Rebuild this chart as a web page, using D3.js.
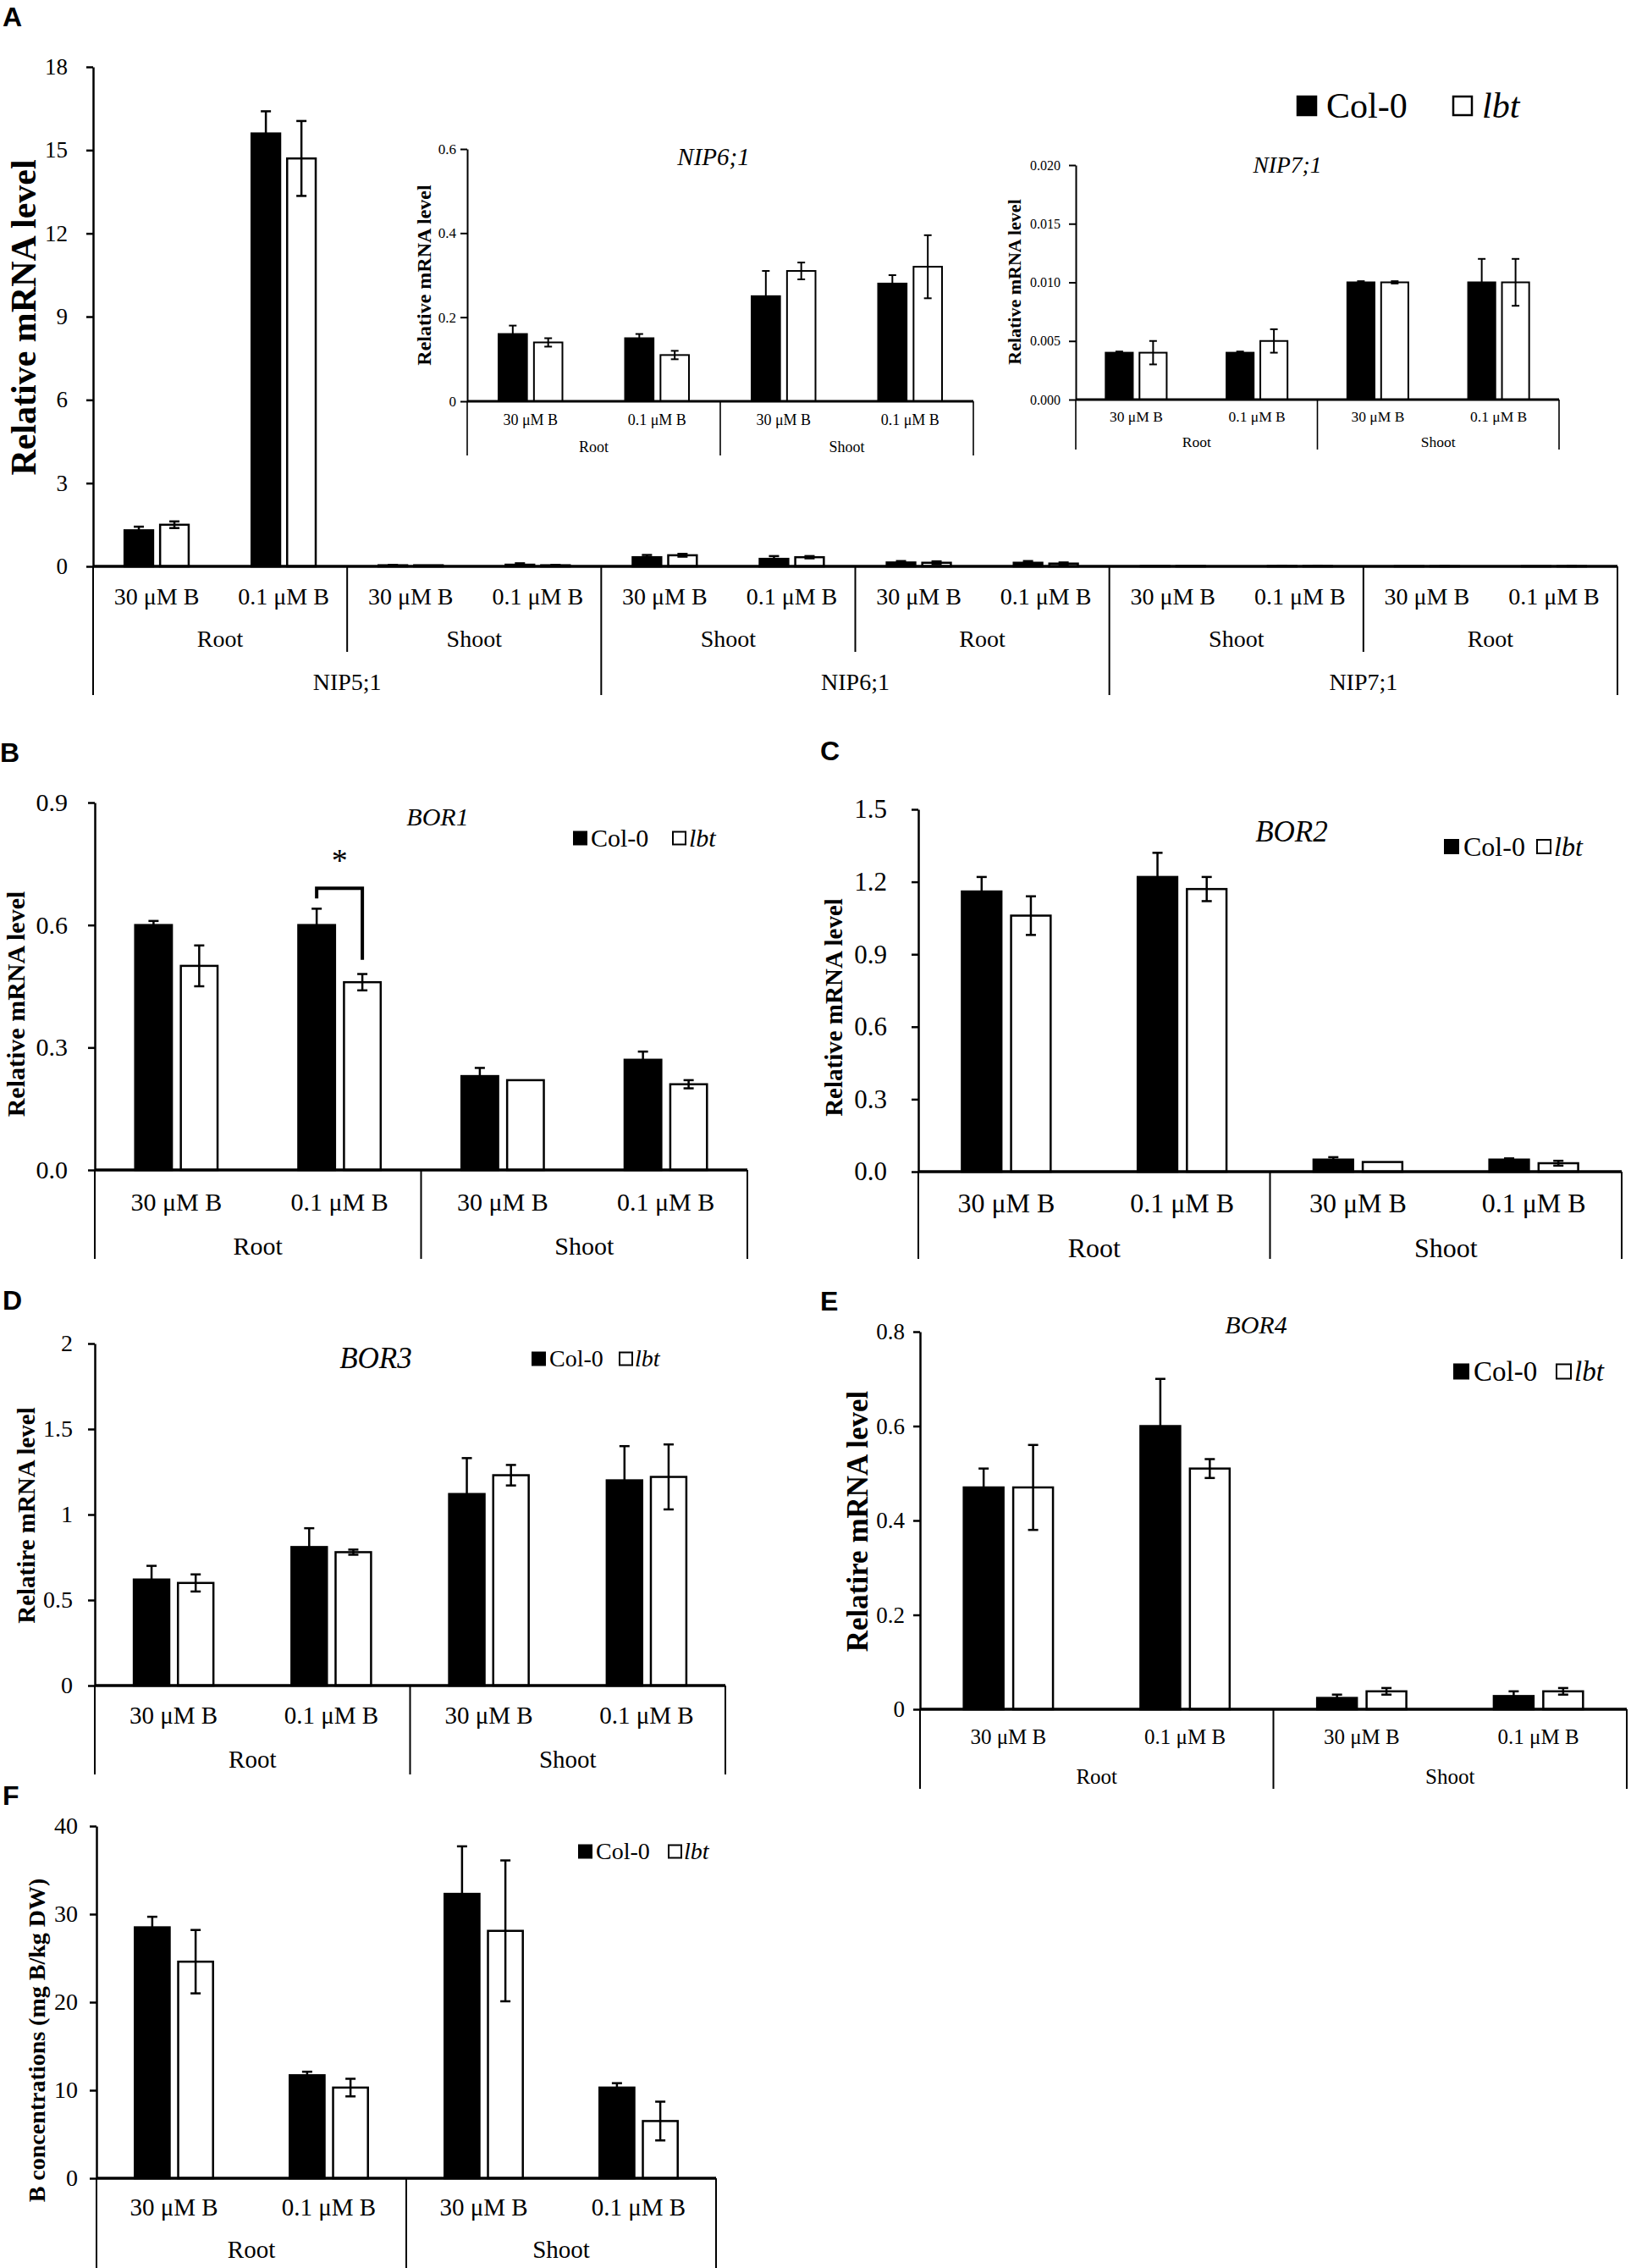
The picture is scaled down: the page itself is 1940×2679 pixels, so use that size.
<!DOCTYPE html>
<html lang="en">
<head>
<meta charset="UTF-8">
<title>NIP and BOR expression, B concentrations (Col-0 vs lbt)</title>
<script src="https://cdnjs.cloudflare.com/ajax/libs/d3/7.8.5/d3.min.js"></script>
<style>
  body { margin: 0; background: #fff; }
  svg { display: block; }
</style>
</head>
<body>
<div id="chart"></div>
<script>
// ---- values ----
const seriesNames = ["Col-0", "lbt"];
const concLabels = ["30 μM B", "0.1 μM B"];
const tissues = ["Root", "Shoot"];

// panel A, main chart (12 groups)
const aGenes = ["NIP5;1", "NIP6;1", "NIP7;1"];
const aTissues = ["Root", "Shoot", "Shoot", "Root", "Shoot", "Root"];
const aCol0 = [1.30, 15.6, 0.04, 0.06, 0.33, 0.27, 0.14, 0.13, 0.010, 0.010, 0.004, 0.004];
const aCol0Err = [0.13, 0.80, 0.01, 0.05, 0.08, 0.10, 0.05, 0.06, 0, 0.002, 0, 0];
const aLbt = [1.50, 14.7, 0.04, 0.04, 0.40, 0.33, 0.13, 0.10, 0.010, 0.010, 0.004, 0.005];
const aLbtErr = [0.12, 1.35, 0, 0.01, 0.05, 0.04, 0.05, 0.04, 0, 0.002, 0.001, 0.001];
const aTicks = [0, 3, 6, 9, 12, 15, 18];

// panel A insets
const nip6Col0 = [0.16, 0.15, 0.25, 0.28];
const nip6Col0Err = [0.02, 0.01, 0.06, 0.02];
const nip6Lbt = [0.14, 0.11, 0.31, 0.32];
const nip6LbtErr = [0.01, 0.01, 0.02, 0.075];
const nip6Ticks = [0, 0.2, 0.4, 0.6];

const nip7Col0 = [0.004, 0.004, 0.010, 0.010];
const nip7Col0Err = [0.0001, 0.0001, 0.0001, 0.002];
const nip7Lbt = [0.004, 0.005, 0.010, 0.010];
const nip7LbtErr = [0.001, 0.001, 0.0001, 0.002];
const nip7Ticks = [0, 0.005, 0.010, 0.015, 0.020];

// panels B-E (BOR genes), F (B concentration)
const bor1Col0 = [0.60, 0.60, 0.23, 0.27];
const bor1Col0Err = [0.01, 0.04, 0.02, 0.02];
const bor1Lbt = [0.50, 0.46, 0.22, 0.21];
const bor1LbtErr = [0.05, 0.02, 0, 0.01];
const bor1Ticks = [0, 0.3, 0.6, 0.9];

const bor2Col0 = [1.16, 1.22, 0.05, 0.05];
const bor2Col0Err = [0.06, 0.10, 0.01, 0.005];
const bor2Lbt = [1.06, 1.17, 0.04, 0.035];
const bor2LbtErr = [0.08, 0.05, 0, 0.01];
const bor2Ticks = [0, 0.3, 0.6, 0.9, 1.2, 1.5];

const bor3Col0 = [0.62, 0.81, 1.12, 1.20];
const bor3Col0Err = [0.08, 0.11, 0.21, 0.20];
const bor3Lbt = [0.60, 0.78, 1.23, 1.22];
const bor3LbtErr = [0.05, 0.015, 0.06, 0.19];
const bor3Ticks = [0, 0.5, 1, 1.5, 2];

const bor4Col0 = [0.47, 0.60, 0.024, 0.028];
const bor4Col0Err = [0.04, 0.10, 0.007, 0.01];
const bor4Lbt = [0.47, 0.51, 0.038, 0.038];
const bor4LbtErr = [0.09, 0.02, 0.007, 0.007];
const bor4Ticks = [0, 0.2, 0.4, 0.6, 0.8];

const bConcCol0 = [28.5, 11.7, 32.3, 10.3];
const bConcCol0Err = [1.2, 0.4, 5.4, 0.5];
const bConcLbt = [24.6, 10.3, 28.1, 6.5];
const bConcLbtErr = [3.6, 1.0, 8.0, 2.2];
const bConcTicks = [0, 10, 20, 30, 40];

// significance bracket in BOR1 (0.1 μM B root)
const bor1Sig = { group: 1, top: 0.69, leftEnd: 0.665, rightEnd: 0.515, star: 0.77 };

const serif = "'Liberation Serif', 'Times New Roman', serif";
const sans = "'Liberation Sans', Arial, sans-serif";

const svg = d3.select("#chart").append("svg")
    .attr("width", 1940)
    .attr("height", 2679)
    .style("background", "#fff");

// draws one clustered bar chart with an Excel style multi-level category axis
function panel(cfg) {
    const g = svg.append("g");
    const n = cfg.col0.length;
    const x = d3.scaleBand().domain(d3.range(n)).range([cfg.x0, cfg.x1]).padding(0);
    const bw = x.bandwidth();
    const sub = d3.scaleBand().domain(seriesNames)
        .range([-0.2525 * bw, 0.2525 * bw])
        .paddingInner(0.196);
    const y = d3.scaleLinear().domain([0, cfg.max]).range([cfg.yZero, cfg.yTop]);

    const rows = d3.range(n).flatMap(i => [
        { i, s: "Col-0", v: cfg.col0[i], e: cfg.col0Err[i] },
        { i, s: "lbt", v: cfg.lbt[i], e: cfg.lbtErr[i] }
    ]);
    const cx = d => x(d.i) + bw / 2 + sub(d.s) + sub.bandwidth() / 2;

    g.selectAll("rect.bar")
        .data(rows)
        .join("rect")
        .attr("class", "bar")
        .attr("x", d => x(d.i) + bw / 2 + sub(d.s))
        .attr("y", d => y(d.v))
        .attr("width", sub.bandwidth())
        .attr("height", d => y(0) - y(d.v))
        .attr("fill", d => d.s === "Col-0" ? "#000" : "#fff")
        .attr("stroke", "#000")
        .attr("stroke-width", cfg.sw);

    // error bars
    const eb = g.selectAll("g.err")
        .data(rows.filter(d => d.e > 0))
        .join("g")
        .attr("class", "err")
        .attr("stroke", "#000")
        .attr("stroke-width", cfg.sw);
    eb.append("line")
        .attr("x1", cx).attr("x2", cx)
        .attr("y1", d => y(d.v + d.e))
        .attr("y2", d => y(Math.max(0, d.v - d.e)));
    eb.append("line")
        .attr("x1", d => cx(d) - cfg.cap / 2).attr("x2", d => cx(d) + cfg.cap / 2)
        .attr("y1", d => y(d.v + d.e)).attr("y2", d => y(d.v + d.e));
    eb.append("line")
        .attr("x1", d => cx(d) - cfg.cap / 2).attr("x2", d => cx(d) + cfg.cap / 2)
        .attr("y1", d => y(Math.max(0, d.v - d.e))).attr("y2", d => y(Math.max(0, d.v - d.e)));

    // y axis
    const ax = g.append("g")
        .attr("transform", `translate(${cfg.x0},0)`)
        .call(d3.axisLeft(y)
            .tickValues(cfg.ticks)
            .tickFormat(cfg.fmt)
            .tickSize(8)
            .tickSizeOuter(0)
            .tickPadding(cfg.tickGap - 8));
    ax.attr("font-family", null).attr("font-size", null);
    ax.select(".domain").attr("stroke-width", cfg.sw);
    ax.selectAll(".tick line").attr("stroke-width", cfg.sw);
    ax.selectAll(".tick text")
        .attr("font-family", serif)
        .attr("font-size", cfg.tickFont)
        .attr("fill", "#000");

    // baseline
    g.append("line")
        .attr("x1", cfg.x0).attr("x2", cfg.x1)
        .attr("y1", y(0)).attr("y2", y(0))
        .attr("stroke", "#000")
        .attr("stroke-width", cfg.sw + 0.8);

    // category separators
    const xb = b => b < n ? x(b) : cfg.x1;
    g.selectAll("line.sep")
        .data(d3.range(0, n + 1, 2))
        .join("line")
        .attr("class", "sep")
        .attr("x1", xb).attr("x2", xb)
        .attr("y1", y(0))
        .attr("y2", b => (cfg.sep3Bottom && b % 4 === 0) ? cfg.sep3Bottom : cfg.sepBottom)
        .attr("stroke", "#000")
        .attr("stroke-width", cfg.sw * 0.8);

    // category labels
    const label = (data, px, py, size) => g.append("g")
        .selectAll("text")
        .data(data)
        .join("text")
        .attr("x", px)
        .attr("y", py + size * 0.32)
        .attr("text-anchor", "middle")
        .attr("font-family", serif)
        .attr("font-size", size)
        .text(d => d.t);

    label(d3.range(n).map(i => ({ i, t: concLabels[i % 2] })),
        d => x(d.i) + bw / 2, cfg.catY, cfg.catFont);
    label(cfg.tissues.map((t, k) => ({ k, t })),
        d => x(d.k * 2) + bw, cfg.tissueY, cfg.tissueFont);
    if (cfg.genes) {
        label(cfg.genes.map((t, m) => ({ m, t })),
            d => x(d.m * 4) + 2 * bw, cfg.geneY, cfg.geneFont);
    }

    if (cfg.title) {
        g.append("text")
            .attr("x", cfg.title.x)
            .attr("y", cfg.title.y + cfg.title.size * 0.33)
            .attr("text-anchor", "middle")
            .attr("font-family", serif)
            .attr("font-style", "italic")
            .attr("font-size", cfg.title.size)
            .text(cfg.title.text);
    }

    if (cfg.ylabel) {
        g.append("text")
            .attr("transform", `translate(${cfg.ylabel.x},${cfg.ylabel.y}) rotate(-90)`)
            .attr("text-anchor", "middle")
            .attr("dominant-baseline", "central")
            .attr("font-family", serif)
            .attr("font-weight", "bold")
            .attr("font-size", cfg.ylabel.size)
            .text(cfg.ylabel.text);
    }

    if (cfg.legend) {
        const L = cfg.legend;
        const lg = g.append("g");
        const items = [
            { s: "Col-0", sx: L.x, tx: L.tx, fill: "#000", italic: false },
            { s: "lbt", sx: L.wx, tx: L.ltx, fill: "#fff", italic: true }
        ];
        lg.selectAll("rect")
            .data(items)
            .join("rect")
            .attr("x", d => d.sx)
            .attr("y", L.cy - L.size / 2)
            .attr("width", L.size)
            .attr("height", L.size)
            .attr("fill", d => d.fill)
            .attr("stroke", "#000")
            .attr("stroke-width", L.size > 18 ? 2.5 : 2);
        lg.selectAll("text")
            .data(items)
            .join("text")
            .attr("x", d => d.tx)
            .attr("y", L.cy + L.font * 0.33)
            .attr("font-family", serif)
            .attr("font-size", L.font)
            .attr("font-style", d => d.italic ? "italic" : "normal")
            .text(d => d.s);
    }

    return { x, y, sub, bw };
}

function panelLetter(t, px, py) {
    svg.append("text")
        .attr("x", px)
        .attr("y", py)
        .attr("font-family", sans)
        .attr("font-weight", "bold")
        .attr("font-size", 32)
        .text(t);
}

// ---- panel A ----
panelLetter("A", 3, 31);
panel({
    col0: aCol0, col0Err: aCol0Err, lbt: aLbt, lbtErr: aLbtErr,
    x0: 110, x1: 1911, yTop: 79, yZero: 669, max: 18,
    ticks: aTicks, fmt: d => d, tickFont: 27, tickGap: 30,
    sw: 2.5, cap: 12,
    catY: 705, catFont: 28, tissues: aTissues, tissueY: 755, tissueFont: 28,
    genes: aGenes, geneY: 806, geneFont: 28,
    sepBottom: 770, sep3Bottom: 821,
    ylabel: { text: "Relative mRNA level", x: 28, y: 375, size: 42 },
    legend: { x: 1533, tx: 1567, wx: 1717, ltx: 1751, cy: 125, size: 22, font: 42 }
});
panel({
    col0: nip6Col0, col0Err: nip6Col0Err, lbt: nip6Lbt, lbtErr: nip6LbtErr,
    x0: 552, x1: 1150, yTop: 176, yZero: 474, max: 0.6,
    ticks: nip6Ticks, fmt: d => d, tickFont: 17, tickGap: 13,
    sw: 2, cap: 9,
    catY: 496, catFont: 18, tissues: tissues, tissueY: 528, tissueFont: 18,
    sepBottom: 538,
    title: { text: "NIP6;1", x: 843, y: 185, size: 29 },
    ylabel: { text: "Relative mRNA level", x: 501, y: 325, size: 24 }
});
panel({
    col0: nip7Col0, col0Err: nip7Col0Err, lbt: nip7Lbt, lbtErr: nip7LbtErr,
    x0: 1271, x1: 1842, yTop: 195, yZero: 472, max: 0.02,
    ticks: nip7Ticks, fmt: d3.format(".3f"), tickFont: 16, tickGap: 18,
    sw: 2, cap: 9,
    catY: 492, catFont: 17.5, tissues: tissues, tissueY: 522, tissueFont: 17.5,
    sepBottom: 531,
    title: { text: "NIP7;1", x: 1521, y: 195, size: 27.5 },
    ylabel: { text: "Relative mRNA level", x: 1198, y: 333, size: 22 }
});

// ---- panel B ----
panelLetter("B", 0, 900);
const pB = panel({
    col0: bor1Col0, col0Err: bor1Col0Err, lbt: bor1Lbt, lbtErr: bor1LbtErr,
    x0: 112, x1: 883, yTop: 948, yZero: 1382, max: 0.9,
    ticks: bor1Ticks, fmt: d3.format(".1f"), tickFont: 30, tickGap: 32,
    sw: 2.5, cap: 12,
    catY: 1420, catFont: 30, tissues: tissues, tissueY: 1472, tissueFont: 30,
    sepBottom: 1487,
    title: { text: "BOR1", x: 517, y: 965, size: 30 },
    ylabel: { text: "Relative mRNA level", x: 18, y: 1186, size: 30 },
    legend: { x: 678, tx: 698, wx: 795, ltx: 814, cy: 990, size: 15, font: 30 }
});
{
    const c = s => pB.x(bor1Sig.group) + pB.bw / 2 + pB.sub(s) + pB.sub.bandwidth() / 2;
    const xl = c("Col-0"), xr = c("lbt");
    svg.append("path")
        .attr("d", `M${xl},${pB.y(bor1Sig.leftEnd)} V${pB.y(bor1Sig.top)} H${xr} V${pB.y(bor1Sig.rightEnd)}`)
        .attr("fill", "none")
        .attr("stroke", "#000")
        .attr("stroke-width", 4);
    svg.append("text")
        .attr("x", (xl + xr) / 2)
        .attr("y", pB.y(bor1Sig.star) + 18)
        .attr("text-anchor", "middle")
        .attr("font-family", serif)
        .attr("font-size", 38)
        .text("*");
}

// ---- panel C ----
panelLetter("C", 969, 898);
panel({
    col0: bor2Col0, col0Err: bor2Col0Err, lbt: bor2Lbt, lbtErr: bor2LbtErr,
    x0: 1085, x1: 1916, yTop: 956, yZero: 1384, max: 1.5,
    ticks: bor2Ticks, fmt: d3.format(".1f"), tickFont: 31, tickGap: 37,
    sw: 2.5, cap: 12,
    catY: 1422, catFont: 32, tissues: tissues, tissueY: 1475, tissueFont: 32,
    sepBottom: 1487,
    title: { text: "BOR2", x: 1526, y: 982, size: 35 },
    ylabel: { text: "Relative mRNA level", x: 985, y: 1190, size: 29 },
    legend: { x: 1707, tx: 1729, wx: 1816, ltx: 1836, cy: 1000, size: 16, font: 32 }
});

// ---- panel D ----
panelLetter("D", 3, 1547);
panel({
    col0: bor3Col0, col0Err: bor3Col0Err, lbt: bor3Lbt, lbtErr: bor3LbtErr,
    x0: 112, x1: 857, yTop: 1587, yZero: 1991, max: 2,
    ticks: bor3Ticks, fmt: d => d, tickFont: 28, tickGap: 26,
    sw: 2.5, cap: 12,
    catY: 2027, catFont: 29, tissues: tissues, tissueY: 2079, tissueFont: 29,
    sepBottom: 2096,
    title: { text: "BOR3", x: 444, y: 1604, size: 35 },
    ylabel: { text: "Relatire mRNA level", x: 31, y: 1790, size: 29 },
    legend: { x: 629, tx: 649, wx: 732, ltx: 750, cy: 1605, size: 15, font: 28 }
});

// ---- panel E ----
panelLetter("E", 969, 1548);
panel({
    col0: bor4Col0, col0Err: bor4Col0Err, lbt: bor4Lbt, lbtErr: bor4LbtErr,
    x0: 1087, x1: 1922, yTop: 1573, yZero: 2019, max: 0.8,
    ticks: bor4Ticks, fmt: d => d, tickFont: 27, tickGap: 18,
    sw: 2.5, cap: 12,
    catY: 2052, catFont: 25, tissues: tissues, tissueY: 2099, tissueFont: 25,
    sepBottom: 2113,
    title: { text: "BOR4", x: 1484, y: 1565, size: 30 },
    ylabel: { text: "Relatire mRNA level", x: 1013, y: 1797, size: 35 },
    legend: { x: 1718, tx: 1741, wx: 1839, ltx: 1860, cy: 1620, size: 17, font: 33 }
});

// ---- panel F ----
panelLetter("F", 3, 2132);
panel({
    col0: bConcCol0, col0Err: bConcCol0Err, lbt: bConcLbt, lbtErr: bConcLbtErr,
    x0: 114, x1: 846, yTop: 2157, yZero: 2573, max: 40,
    ticks: bConcTicks, fmt: d => d, tickFont: 28, tickGap: 22,
    sw: 2.5, cap: 12,
    catY: 2608, catFont: 29, tissues: tissues, tissueY: 2658, tissueFont: 29,
    sepBottom: 2679,
    ylabel: { text: "B concentrations (mg B/kg DW)", x: 43, y: 2410, size: 28 },
    legend: { x: 684, tx: 704, wx: 790, ltx: 808, cy: 2187, size: 15, font: 28 }
});
</script>
</body>
</html>
